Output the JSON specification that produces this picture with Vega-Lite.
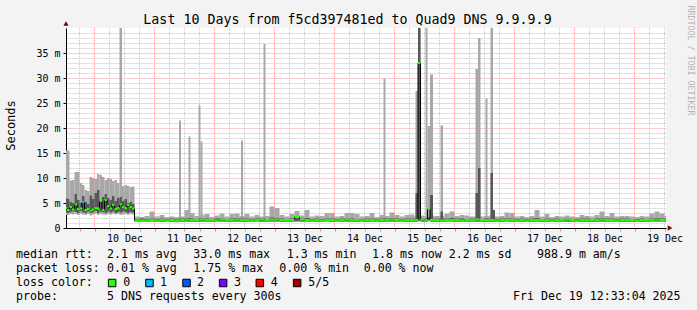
{
  "$schema": "https://vega.github.io/schema/vega-lite/v6.json",
  "background": "#F3F3F3",
  "autosize": {"type": "pad"},
  "padding": {"left": 4, "top": 5, "right": 4, "bottom": 7},
  "bounds": "flush",
  "spacing": 20,
  "title": {"text": "Last 10 Days from f5cd397481ed to Quad9 DNS 9.9.9.9", "font": "DejaVu Sans Mono", "fontSize": 13.3, "fontWeight": "normal", "color": "#000000", "anchor": "middle", "frame": "group", "dx": -18.5, "offset": 0, "baseline": "middle", "dy": 28},
  "config": {"view": {"stroke": null}, "font": "DejaVu Sans Mono"},
  "datasets": {
    "vgrid": [
      {"t":-6,"kind":"minor"},{"t":0,"kind":"major"},{"t":6,"kind":"minor"},{"t":12,"kind":"minor"},{"t":18,"kind":"minor"},
      {"t":24,"kind":"major"},{"t":30,"kind":"minor"},{"t":36,"kind":"minor"},{"t":42,"kind":"minor"},
      {"t":48,"kind":"major"},{"t":54,"kind":"minor"},{"t":60,"kind":"minor"},{"t":66,"kind":"minor"},
      {"t":72,"kind":"major"},{"t":78,"kind":"minor"},{"t":84,"kind":"minor"},{"t":90,"kind":"minor"},
      {"t":96,"kind":"major"},{"t":102,"kind":"minor"},{"t":108,"kind":"minor"},{"t":114,"kind":"minor"},
      {"t":120,"kind":"major"},{"t":126,"kind":"minor"},{"t":132,"kind":"minor"},{"t":138,"kind":"minor"},
      {"t":144,"kind":"major"},{"t":150,"kind":"minor"},{"t":156,"kind":"minor"},{"t":162,"kind":"minor"},
      {"t":168,"kind":"major"},{"t":174,"kind":"minor"},{"t":180,"kind":"minor"},{"t":186,"kind":"minor"},
      {"t":192,"kind":"major"},{"t":198,"kind":"minor"},{"t":204,"kind":"minor"},{"t":210,"kind":"minor"},
      {"t":216,"kind":"major"},{"t":222,"kind":"minor"},{"t":228,"kind":"minor"}
    ],
    "rows": [
      {"t":-12,"t2":-11,"lo":2.6,"dlo":3.1,"dhi":6.0,"hi":15.5,"med":4.0,"loss":"0"},
      {"t":-11,"t2":-10,"lo":2.6,"dlo":3.0,"dhi":5.8,"hi":15.5,"med":3.6,"loss":"0"},
      {"t":-10,"t2":-9,"lo":2.8,"dlo":3.2,"dhi":5.2,"hi":9.5,"med":4.2,"loss":"0"},
      {"t":-9,"t2":-8,"lo":2.7,"dlo":3.3,"dhi":5.0,"hi":9.6,"med":3.7,"loss":"0"},
      {"t":-8,"t2":-7,"lo":2.8,"dlo":3.2,"dhi":6.8,"hi":11.2,"med":4.7,"loss":"0"},
      {"t":-7,"t2":-6,"lo":2.6,"dlo":3.0,"dhi":5.6,"hi":11.2,"med":3.8,"loss":"0"},
      {"t":-6,"t2":-5,"lo":2.9,"dlo":3.4,"dhi":5.0,"hi":9.0,"med":3.9,"loss":"0"},
      {"t":-5,"t2":-4,"lo":2.7,"dlo":3.1,"dhi":6.4,"hi":8.6,"med":5.2,"loss":"1"},
      {"t":-4,"t2":-3,"lo":2.6,"dlo":3.0,"dhi":5.2,"hi":7.6,"med":3.6,"loss":"0"},
      {"t":-3,"t2":-2,"lo":2.8,"dlo":3.3,"dhi":4.8,"hi":7.4,"med":3.8,"loss":"0"},
      {"t":-2,"t2":-1,"lo":2.5,"dlo":3.0,"dhi":6.5,"hi":10.2,"med":3.5,"loss":"0"},
      {"t":-1,"t2":0,"lo":2.7,"dlo":3.1,"dhi":5.8,"hi":10.0,"med":3.7,"loss":"0"},
      {"t":0,"t2":1,"lo":2.9,"dlo":3.4,"dhi":7.0,"hi":9.8,"med":4.0,"loss":"0"},
      {"t":1,"t2":2,"lo":2.6,"dlo":3.0,"dhi":7.6,"hi":10.8,"med":3.9,"loss":"0"},
      {"t":2,"t2":3,"lo":2.8,"dlo":3.3,"dhi":5.6,"hi":10.6,"med":5.4,"loss":"0"},
      {"t":3,"t2":4,"lo":2.7,"dlo":3.2,"dhi":6.2,"hi":10.2,"med":3.6,"loss":"0"},
      {"t":4,"t2":5,"lo":2.6,"dlo":3.0,"dhi":6.8,"hi":9.6,"med":5.6,"loss":"0"},
      {"t":5,"t2":6,"lo":2.8,"dlo":3.3,"dhi":6.0,"hi":10.0,"med":4.4,"loss":"0"},
      {"t":6,"t2":7,"lo":2.7,"dlo":3.1,"dhi":5.6,"hi":9.8,"med":3.9,"loss":"0"},
      {"t":7,"t2":8,"lo":2.9,"dlo":3.3,"dhi":6.4,"hi":9.4,"med":4.6,"loss":"0"},
      {"t":8,"t2":9,"lo":2.7,"dlo":3.0,"dhi":5.4,"hi":9.6,"med":3.8,"loss":"0"},
      {"t":9,"t2":10,"lo":2.8,"dlo":3.2,"dhi":6.0,"hi":9.0,"med":4.0,"loss":"0"},
      {"t":10,"t2":11,"lo":2.6,"dlo":3.1,"dhi":6.2,"hi":40,"med":4.7,"loss":"0"},
      {"t":11,"t2":12,"lo":2.7,"dlo":3.3,"dhi":5.4,"hi":8.4,"med":4.2,"loss":"0"},
      {"t":12,"t2":13,"lo":2.8,"dlo":3.2,"dhi":5.8,"hi":8.6,"med":4.0,"loss":"0"},
      {"t":13,"t2":14,"lo":2.6,"dlo":3.0,"dhi":5.0,"hi":8.4,"med":4.6,"loss":"0"},
      {"t":14,"t2":15,"lo":2.8,"dlo":3.2,"dhi":5.2,"hi":8.2,"med":4.2,"loss":"0"},
      {"t":15,"t2":16,"lo":2.7,"dlo":3.1,"dhi":4.8,"hi":8.3,"med":3.9,"loss":"0"},
      {"t":16,"t2":18,"lo":1.2,"dlo":1.3,"dhi":1.8,"hi":2.3,"med":1.5,"loss":"0"},
      {"t":18,"t2":20,"lo":1.2,"dlo":1.3,"dhi":1.9,"hi":2.2,"med":1.5,"loss":"0"},
      {"t":20,"t2":22,"lo":1.2,"dlo":1.3,"dhi":1.8,"hi":2.4,"med":1.5,"loss":"0"},
      {"t":22,"t2":24,"lo":1.2,"dlo":1.35,"dhi":1.9,"hi":3.3,"med":1.6,"loss":"0"},
      {"t":24,"t2":26,"lo":1.2,"dlo":1.3,"dhi":1.8,"hi":2.3,"med":1.5,"loss":"0"},
      {"t":26,"t2":28,"lo":1.2,"dlo":1.3,"dhi":1.9,"hi":2.6,"med":1.6,"loss":"0"},
      {"t":28,"t2":30,"lo":1.2,"dlo":1.35,"dhi":1.8,"hi":2.2,"med":1.5,"loss":"0"},
      {"t":30,"t2":32,"lo":1.2,"dlo":1.3,"dhi":1.9,"hi":2.3,"med":1.6,"loss":"0"},
      {"t":32,"t2":34,"lo":1.1,"dlo":1.3,"dhi":1.8,"hi":2.2,"med":1.5,"loss":"0"},
      {"t":34,"t2":36,"lo":1.2,"dlo":1.3,"dhi":1.9,"hi":2.3,"med":1.6,"loss":"0"},
      {"t":36,"t2":38,"lo":1.2,"dlo":1.35,"dhi":2.0,"hi":3.6,"med":1.7,"loss":"0"},
      {"t":38,"t2":40,"lo":1.2,"dlo":1.3,"dhi":1.9,"hi":3.0,"med":1.6,"loss":"0"},
      {"t":40,"t2":42,"lo":1.2,"dlo":1.3,"dhi":1.8,"hi":2.4,"med":1.6,"loss":"0"},
      {"t":42,"t2":44,"lo":1.2,"dlo":1.35,"dhi":1.9,"hi":2.6,"med":1.7,"loss":"0"},
      {"t":44,"t2":46,"lo":1.2,"dlo":1.3,"dhi":1.9,"hi":2.8,"med":1.6,"loss":"0"},
      {"t":46,"t2":48,"lo":1.2,"dlo":1.3,"dhi":1.8,"hi":2.2,"med":1.6,"loss":"0"},
      {"t":48,"t2":50,"lo":1.2,"dlo":1.3,"dhi":1.9,"hi":2.5,"med":1.5,"loss":"0"},
      {"t":50,"t2":52,"lo":1.2,"dlo":1.35,"dhi":1.9,"hi":2.9,"med":1.7,"loss":"0"},
      {"t":52,"t2":54,"lo":1.2,"dlo":1.3,"dhi":1.8,"hi":2.3,"med":1.6,"loss":"0"},
      {"t":54,"t2":56,"lo":1.2,"dlo":1.3,"dhi":1.9,"hi":2.8,"med":1.6,"loss":"0"},
      {"t":56,"t2":58,"lo":1.2,"dlo":1.35,"dhi":2.0,"hi":2.9,"med":1.7,"loss":"0"},
      {"t":58,"t2":60,"lo":1.2,"dlo":1.3,"dhi":1.9,"hi":2.4,"med":1.6,"loss":"0"},
      {"t":60,"t2":62,"lo":1.2,"dlo":1.3,"dhi":1.9,"hi":2.8,"med":1.6,"loss":"0"},
      {"t":62,"t2":64,"lo":1.2,"dlo":1.3,"dhi":1.8,"hi":2.3,"med":1.5,"loss":"0"},
      {"t":64,"t2":66,"lo":1.2,"dlo":1.35,"dhi":1.9,"hi":2.6,"med":1.6,"loss":"0"},
      {"t":66,"t2":68,"lo":1.2,"dlo":1.3,"dhi":1.9,"hi":2.3,"med":1.7,"loss":"0"},
      {"t":68,"t2":70,"lo":1.2,"dlo":1.3,"dhi":1.8,"hi":2.4,"med":1.6,"loss":"0"},
      {"t":70,"t2":72,"lo":1.2,"dlo":1.35,"dhi":2.1,"hi":4.3,"med":1.7,"loss":"0"},
      {"t":72,"t2":74,"lo":1.2,"dlo":1.35,"dhi":2.0,"hi":4.0,"med":1.7,"loss":"0"},
      {"t":74,"t2":76,"lo":1.2,"dlo":1.3,"dhi":1.9,"hi":2.6,"med":1.6,"loss":"0"},
      {"t":76,"t2":78,"lo":1.2,"dlo":1.3,"dhi":1.8,"hi":2.3,"med":1.6,"loss":"0"},
      {"t":78,"t2":80,"lo":1.2,"dlo":1.3,"dhi":1.9,"hi":2.8,"med":1.6,"loss":"0"},
      {"t":80,"t2":82,"lo":1.2,"dlo":1.4,"dhi":2.3,"hi":3.4,"med":2.2,"loss":"0"},
      {"t":82,"t2":84,"lo":1.2,"dlo":1.3,"dhi":1.9,"hi":2.5,"med":1.7,"loss":"0"},
      {"t":84,"t2":86,"lo":1.2,"dlo":1.35,"dhi":2.0,"hi":3.6,"med":1.6,"loss":"0"},
      {"t":86,"t2":88,"lo":1.2,"dlo":1.3,"dhi":1.8,"hi":2.3,"med":1.5,"loss":"0"},
      {"t":88,"t2":90,"lo":1.2,"dlo":1.3,"dhi":1.9,"hi":2.5,"med":1.6,"loss":"0"},
      {"t":90,"t2":92,"lo":1.2,"dlo":1.3,"dhi":1.8,"hi":2.4,"med":1.5,"loss":"0"},
      {"t":92,"t2":94,"lo":1.2,"dlo":1.35,"dhi":1.9,"hi":3.0,"med":1.6,"loss":"0"},
      {"t":94,"t2":96,"lo":1.2,"dlo":1.3,"dhi":1.9,"hi":3.0,"med":1.6,"loss":"0"},
      {"t":96,"t2":98,"lo":1.2,"dlo":1.3,"dhi":1.8,"hi":2.3,"med":1.5,"loss":"0"},
      {"t":98,"t2":100,"lo":1.2,"dlo":1.3,"dhi":1.9,"hi":2.4,"med":1.6,"loss":"0"},
      {"t":100,"t2":102,"lo":1.2,"dlo":1.35,"dhi":1.9,"hi":3.0,"med":1.7,"loss":"0"},
      {"t":102,"t2":104,"lo":1.2,"dlo":1.3,"dhi":1.9,"hi":3.0,"med":1.6,"loss":"0"},
      {"t":104,"t2":106,"lo":1.2,"dlo":1.3,"dhi":1.8,"hi":2.8,"med":1.6,"loss":"0"},
      {"t":106,"t2":108,"lo":1.2,"dlo":1.3,"dhi":1.8,"hi":2.3,"med":1.5,"loss":"0"},
      {"t":108,"t2":110,"lo":1.2,"dlo":1.3,"dhi":1.9,"hi":2.4,"med":1.6,"loss":"0"},
      {"t":110,"t2":112,"lo":1.2,"dlo":1.35,"dhi":1.9,"hi":3.0,"med":1.6,"loss":"0"},
      {"t":112,"t2":114,"lo":1.2,"dlo":1.3,"dhi":1.8,"hi":2.2,"med":1.5,"loss":"0"},
      {"t":114,"t2":116,"lo":1.2,"dlo":1.3,"dhi":1.9,"hi":2.6,"med":1.6,"loss":"0"},
      {"t":116,"t2":118,"lo":1.2,"dlo":1.3,"dhi":1.9,"hi":2.4,"med":1.6,"loss":"0"},
      {"t":118,"t2":120,"lo":1.2,"dlo":1.35,"dhi":2.0,"hi":3.1,"med":1.7,"loss":"0"},
      {"t":120,"t2":122,"lo":1.2,"dlo":1.3,"dhi":1.9,"hi":2.6,"med":1.6,"loss":"0"},
      {"t":122,"t2":124,"lo":1.2,"dlo":1.3,"dhi":1.8,"hi":2.3,"med":1.5,"loss":"0"},
      {"t":124,"t2":126,"lo":1.2,"dlo":1.3,"dhi":1.9,"hi":2.6,"med":1.6,"loss":"0"},
      {"t":126,"t2":128,"lo":1.2,"dlo":1.3,"dhi":1.9,"hi":2.7,"med":1.6,"loss":"0"},
      {"t":128,"t2":129.4,"lo":1.2,"dlo":1.3,"dhi":1.9,"hi":2.4,"med":1.6,"loss":"0"},
      {"t":129.4,"t2":130.4,"lo":1.3,"dlo":1.5,"dhi":40,"hi":40,"med":33.0,"loss":"0"},
      {"t":130.4,"t2":132,"lo":1.2,"dlo":1.3,"dhi":1.9,"hi":2.5,"med":1.7,"loss":"0"},
      {"t":132,"t2":133.2,"lo":1.2,"dlo":1.3,"dhi":1.9,"hi":2.4,"med":1.6,"loss":"0"},
      {"t":133.2,"t2":134.2,"lo":1.3,"dlo":1.6,"dhi":2.2,"hi":20.4,"med":3.8,"loss":"0"},
      {"t":134.2,"t2":136,"lo":1.2,"dlo":1.3,"dhi":1.9,"hi":2.5,"med":1.6,"loss":"0"},
      {"t":136,"t2":138,"lo":1.2,"dlo":1.3,"dhi":1.9,"hi":2.4,"med":1.6,"loss":"0"},
      {"t":138,"t2":140,"lo":1.2,"dlo":1.3,"dhi":1.9,"hi":2.5,"med":1.5,"loss":"0"},
      {"t":140,"t2":142,"lo":1.2,"dlo":1.35,"dhi":1.9,"hi":2.9,"med":1.6,"loss":"0"},
      {"t":142,"t2":144,"lo":1.2,"dlo":1.35,"dhi":2.0,"hi":3.3,"med":1.6,"loss":"0"},
      {"t":144,"t2":146,"lo":1.2,"dlo":1.3,"dhi":1.9,"hi":2.4,"med":1.6,"loss":"0"},
      {"t":146,"t2":148,"lo":1.2,"dlo":1.3,"dhi":1.9,"hi":2.6,"med":1.5,"loss":"0"},
      {"t":148,"t2":150,"lo":1.2,"dlo":1.3,"dhi":1.8,"hi":2.5,"med":1.6,"loss":"0"},
      {"t":150,"t2":152,"lo":1.2,"dlo":1.3,"dhi":1.9,"hi":2.3,"med":1.6,"loss":"0"},
      {"t":152,"t2":154,"lo":1.2,"dlo":1.3,"dhi":1.9,"hi":2.4,"med":1.7,"loss":"0"},
      {"t":154,"t2":156,"lo":1.2,"dlo":1.3,"dhi":1.8,"hi":2.3,"med":1.6,"loss":"0"},
      {"t":156,"t2":158,"lo":1.2,"dlo":1.3,"dhi":1.9,"hi":2.4,"med":1.6,"loss":"0"},
      {"t":158,"t2":160,"lo":1.2,"dlo":1.3,"dhi":1.9,"hi":2.6,"med":1.6,"loss":"0"},
      {"t":160,"t2":162,"lo":1.2,"dlo":1.3,"dhi":1.8,"hi":2.3,"med":1.5,"loss":"0"},
      {"t":162,"t2":164,"lo":1.2,"dlo":1.3,"dhi":1.9,"hi":2.4,"med":1.6,"loss":"0"},
      {"t":164,"t2":166,"lo":1.2,"dlo":1.35,"dhi":1.9,"hi":3.1,"med":1.6,"loss":"0"},
      {"t":166,"t2":168,"lo":1.2,"dlo":1.3,"dhi":1.9,"hi":3.0,"med":1.6,"loss":"0"},
      {"t":168,"t2":170,"lo":1.2,"dlo":1.3,"dhi":1.8,"hi":2.3,"med":1.5,"loss":"0"},
      {"t":170,"t2":172,"lo":1.2,"dlo":1.3,"dhi":1.9,"hi":2.4,"med":1.6,"loss":"0"},
      {"t":172,"t2":174,"lo":1.2,"dlo":1.3,"dhi":1.8,"hi":2.2,"med":1.5,"loss":"0"},
      {"t":174,"t2":176,"lo":1.2,"dlo":1.3,"dhi":1.9,"hi":2.4,"med":1.6,"loss":"0"},
      {"t":176,"t2":178,"lo":1.2,"dlo":1.35,"dhi":2.0,"hi":3.6,"med":1.6,"loss":"0"},
      {"t":178,"t2":180,"lo":1.2,"dlo":1.3,"dhi":1.8,"hi":2.3,"med":1.6,"loss":"0"},
      {"t":180,"t2":182,"lo":1.2,"dlo":1.3,"dhi":1.9,"hi":2.8,"med":1.6,"loss":"0"},
      {"t":182,"t2":184,"lo":1.2,"dlo":1.3,"dhi":1.8,"hi":2.2,"med":1.5,"loss":"0"},
      {"t":184,"t2":186,"lo":1.2,"dlo":1.3,"dhi":1.9,"hi":2.4,"med":1.6,"loss":"0"},
      {"t":186,"t2":188,"lo":1.2,"dlo":1.3,"dhi":1.8,"hi":2.3,"med":1.6,"loss":"0"},
      {"t":188,"t2":190,"lo":1.2,"dlo":1.3,"dhi":1.9,"hi":2.5,"med":1.7,"loss":"0"},
      {"t":190,"t2":192,"lo":1.2,"dlo":1.3,"dhi":1.8,"hi":2.3,"med":1.6,"loss":"0"},
      {"t":192,"t2":194,"lo":1.2,"dlo":1.3,"dhi":1.8,"hi":2.2,"med":1.5,"loss":"0"},
      {"t":194,"t2":196,"lo":1.2,"dlo":1.3,"dhi":1.9,"hi":2.6,"med":1.6,"loss":"0"},
      {"t":196,"t2":198,"lo":1.2,"dlo":1.3,"dhi":1.9,"hi":2.4,"med":1.6,"loss":"0"},
      {"t":198,"t2":200,"lo":1.2,"dlo":1.3,"dhi":1.8,"hi":2.3,"med":1.6,"loss":"0"},
      {"t":200,"t2":202,"lo":1.2,"dlo":1.3,"dhi":1.9,"hi":2.6,"med":1.6,"loss":"0"},
      {"t":202,"t2":204,"lo":1.2,"dlo":1.35,"dhi":2.0,"hi":3.3,"med":1.7,"loss":"0"},
      {"t":204,"t2":206,"lo":1.2,"dlo":1.3,"dhi":1.9,"hi":2.4,"med":1.6,"loss":"0"},
      {"t":206,"t2":208,"lo":1.2,"dlo":1.35,"dhi":1.9,"hi":3.0,"med":1.6,"loss":"0"},
      {"t":208,"t2":210,"lo":1.2,"dlo":1.3,"dhi":1.8,"hi":2.3,"med":1.5,"loss":"0"},
      {"t":210,"t2":212,"lo":1.2,"dlo":1.3,"dhi":1.9,"hi":2.4,"med":1.6,"loss":"0"},
      {"t":212,"t2":214,"lo":1.2,"dlo":1.3,"dhi":1.9,"hi":2.4,"med":1.6,"loss":"0"},
      {"t":214,"t2":216,"lo":1.2,"dlo":1.3,"dhi":1.8,"hi":2.3,"med":1.6,"loss":"0"},
      {"t":216,"t2":218,"lo":1.2,"dlo":1.3,"dhi":1.8,"hi":2.2,"med":1.5,"loss":"0"},
      {"t":218,"t2":220,"lo":1.2,"dlo":1.3,"dhi":1.9,"hi":2.4,"med":1.6,"loss":"0"},
      {"t":220,"t2":222,"lo":1.2,"dlo":1.3,"dhi":1.8,"hi":2.3,"med":1.6,"loss":"0"},
      {"t":222,"t2":224,"lo":1.2,"dlo":1.35,"dhi":1.9,"hi":2.9,"med":1.6,"loss":"0"},
      {"t":224,"t2":226,"lo":1.2,"dlo":1.35,"dhi":2.0,"hi":3.3,"med":1.7,"loss":"0"},
      {"t":226,"t2":228,"lo":1.2,"dlo":1.35,"dhi":1.9,"hi":2.9,"med":1.6,"loss":"0"},
      {"t":228,"t2":230,"lo":1.2,"dlo":1.3,"dhi":1.9,"hi":2.4,"med":1.6,"loss":"0"},
      {"t":33.8,"t2":34.6,"lo":1.3,"dlo":1.4,"dhi":1.9,"hi":21.5},
      {"t":37.6,"t2":38.4,"lo":1.3,"dlo":1.4,"dhi":2.0,"hi":18.3},
      {"t":41.6,"t2":42.4,"lo":1.3,"dlo":1.4,"dhi":1.9,"hi":24.5},
      {"t":42.4,"t2":43.2,"lo":1.3,"dlo":1.4,"dhi":1.9,"hi":17.3},
      {"t":58.6,"t2":59.4,"lo":1.3,"dlo":1.4,"dhi":1.9,"hi":17.5},
      {"t":67.6,"t2":68.4,"lo":1.3,"dlo":1.4,"dhi":1.9,"hi":36.8},
      {"t":115.6,"t2":116.4,"lo":1.3,"dlo":1.4,"dhi":1.9,"hi":29.9},
      {"t":128.4,"t2":129.4,"lo":1.3,"dlo":1.4,"dhi":7.0,"hi":27.4},
      {"t":132.4,"t2":133.2,"lo":1.3,"dlo":1.4,"dhi":2.0,"hi":40},
      {"t":134.2,"t2":135.4,"lo":1.3,"dlo":1.4,"dhi":6.6,"hi":30.7},
      {"t":138.4,"t2":139.4,"lo":1.3,"dlo":1.4,"dhi":3.3,"hi":20.5},
      {"t":152.4,"t2":153.4,"lo":1.3,"dlo":1.4,"dhi":7.0,"hi":31.8},
      {"t":153.4,"t2":154.4,"lo":1.3,"dlo":1.4,"dhi":12.0,"hi":38.0},
      {"t":156.4,"t2":157.2,"lo":1.3,"dlo":1.4,"dhi":2.0,"hi":25.9},
      {"t":158.4,"t2":159.4,"lo":1.3,"dlo":1.4,"dhi":11.0,"hi":40},
      {"t":159.4,"t2":160.2,"lo":1.3,"dlo":1.4,"dhi":3.6,"hi":3.6}
    ],
    "arrows": [
      {"t":230.2,"v":0,"shape":"triangle-right"},
      {"t":-11.4,"v":40.9,"shape":"triangle-up"}
    ],
    "legend": [
      {"line":1,"col":0,"txt":"median rtt:"},
      {"line":1,"col":13,"txt":"2.1 ms avg"},
      {"line":1,"col":25.33,"txt":"33.0 ms max"},
      {"line":1,"col":38.67,"txt":"1.3 ms min"},
      {"line":1,"col":50.86,"txt":"1.8 ms now"},
      {"line":1,"col":61.81,"txt":"2.2 ms sd"},
      {"line":1,"col":74.43,"txt":"988.9 m am/s"},
      {"line":2,"col":0,"txt":"packet loss:"},
      {"line":2,"col":13,"txt":"0.01 % avg"},
      {"line":2,"col":25.33,"txt":"1.75 % max"},
      {"line":2,"col":37.61,"txt":"0.00 % min"},
      {"line":2,"col":49.67,"txt":"0.00 % now"},
      {"line":3,"col":0,"txt":"loss color:"},
      {"line":3,"col":15.33,"txt":"0"},
      {"line":3,"col":20.57,"txt":"1"},
      {"line":3,"col":25.86,"txt":"2"},
      {"line":3,"col":31.14,"txt":"3"},
      {"line":3,"col":36.39,"txt":"4"},
      {"line":3,"col":41.76,"txt":"5/5"},
      {"line":4,"col":0,"txt":"probe:"},
      {"line":4,"col":13,"txt":"5 DNS requests every 300s"},
      {"line":4,"col":71,"txt":"Fri Dec 19 12:33:04 2025"}
    ],
    "swatches": [
      {"line":3,"col":13.73,"loss":"0"},
      {"line":3,"col":19.07,"loss":"1"},
      {"line":3,"col":24.36,"loss":"2"},
      {"line":3,"col":29.59,"loss":"3"},
      {"line":3,"col":34.83,"loss":"4"},
      {"line":3,"col":40.16,"loss":"5/5"}
    ]
  },
  "vconcat": [
    {
      "width": 600,
      "height": 200,
      "view": {"fill": "#FFFFFF", "stroke": null},
      "data": {"name": "rows"},
      "resolve": {"axis": {"y": "independent"}},
      "encoding": {
        "x": {"field": "t", "type": "quantitative",
          "scale": {"domain": [-11.4, 228.6], "nice": false, "zero": false},
          "axis": {
            "title": null,
            "values": [-6,0,6,12,18,24,30,36,42,48,54,60,66,72,78,84,90,96,102,108,114,120,126,132,138,144,150,156,162,168,174,180,186,192,198,204,210,216,222,228],
            "labelExpr": "datum.value % 24 == 12 ? (10 + floor(datum.value / 24)) + ' Dec' : ''",
            "labelFont": "DejaVu Sans Mono", "labelFontSize": 10, "labelColor": "#000000", "labelPadding": 2, "labelAngle": 0,
            "labelOverlap": false, "labelBound": false, "labelFlush": false,
            "tickSize": 3,
            "tickColor": {"condition": {"test": "datum.value % 24 == 0", "value": "#F08080"}, "value": "#B0B0B0"},
            "grid": false,
            "domainColor": "#000000"
          }
        }
      },
      "layer": [
        {
          "data": {"name": "vgrid"},
          "mark": {"type": "rule", "strokeWidth": 1, "strokeDash": [1, 1]},
          "encoding": {
            "stroke": {"field": "kind", "type": "nominal", "legend": null,
              "scale": {"domain": ["major", "minor"], "range": ["#F29A9A", "#C4C4C4"]}}
          }
        },
        {
          "mark": {"type": "rect", "color": "#A8A8A8", "clip": true},
          "encoding": {
            "x2": {"field": "t2"},
            "y": {"field": "lo", "type": "quantitative",
              "scale": {"domain": [0, 40], "nice": false, "zero": true},
              "axis": {
                "title": "Seconds",
                "values": [0,1,2,3,4,5,6,7,8,9,10,11,12,13,14,15,16,17,18,19,20,21,22,23,24,25,26,27,28,29,30,31,32,33,34,35,36,37,38,39],
                "labelExpr": "datum.value % 5 == 0 ? (datum.value == 0 ? '0' : datum.value + ' m') : ''",
                "labelFont": "DejaVu Sans Mono", "labelFontSize": 10, "labelColor": "#000000", "labelPadding": 3,
                "labelOverlap": false, "labelBound": false, "labelFlush": false,
                "tickSize": 3,
                "tickColor": {"condition": {"test": "datum.value % 5 == 0", "value": "#000000"}, "value": "rgba(0,0,0,0)"},
                "grid": true,
                "gridColor": {"condition": [{"test": "datum.value == 0", "value": "rgba(0,0,0,0)"}, {"test": "datum.value % 5 == 0", "value": "#F29A9A"}], "value": "#C4C4C4"},
                "gridDash": [1, 1],
                "gridOpacity": 1,
                "domainColor": "#000000",
                "titleFont": "DejaVu Sans Mono", "titleFontSize": 12, "titleFontWeight": "normal", "titleColor": "#000000",
                "titleAngle": -90, "titleX": -56, "titleY": 97, "titleAlign": "center", "titleBaseline": "middle"
              }
            },
            "y2": {"field": "hi"}
          }
        },
        {
          "mark": {"type": "rect", "color": "#585858", "clip": true},
          "encoding": {
            "x2": {"field": "t2"},
            "y": {"field": "dlo", "type": "quantitative", "axis": null},
            "y2": {"field": "dhi"}
          }
        },
        {
          "transform": [{"filter": "isValid(datum.med)"}],
          "mark": {"type": "line", "color": "#000000", "strokeWidth": 1, "interpolate": "step-after", "clip": true},
          "encoding": {
            "y": {"field": "med", "type": "quantitative", "axis": null}
          }
        },
        {
          "transform": [{"filter": "isValid(datum.med)"}],
          "mark": {"type": "rule", "strokeWidth": 2, "clip": true},
          "encoding": {
            "x2": {"field": "t2"},
            "y": {"field": "med", "type": "quantitative", "axis": null},
            "color": {"field": "loss", "type": "nominal", "legend": null,
              "scale": {"domain": ["0","1","2","3","4","5/5"], "range": ["#26FF00","#00B8FF","#0059FF","#7E00FF","#FF0000","#A10000"]}}
          }
        },
        {
          "data": {"name": "arrows"},
          "mark": {"type": "point", "filled": true, "color": "#7F0000", "opacity": 1, "size": 28},
          "encoding": {
            "y": {"field": "v", "type": "quantitative",
              "axis": {"orient": "right", "title": "RRDTOOL / TOBI OETIKER", "domain": false, "ticks": false, "labels": false, "grid": false,
                "titleAngle": 90, "titleX": 23, "titleY": 32, "titleAlign": "center", "titleBaseline": "middle",
                "titleFont": "DejaVu Sans Mono", "titleFontSize": 8.3, "titleFontWeight": "normal", "titleColor": "#B4B4B4"}},
            "shape": {"field": "shape", "type": "nominal", "scale": null}
          }
        }
      ]
    },
    {
      "width": 600,
      "height": 56,
      "layer": [
        {
          "data": {"name": "legend"},
          "mark": {"type": "text", "align": "left", "baseline": "middle", "font": "DejaVu Sans Mono", "fontSize": 11.6, "color": "#000000"},
          "encoding": {
            "x": {"field": "col", "type": "quantitative", "axis": null, "scale": {"domain": [7.142857, 92.857143], "nice": false, "zero": false}},
            "y": {"field": "line", "type": "ordinal", "axis": null, "scale": {"domain": [1,2,3,4]}},
            "text": {"field": "txt"}
          }
        },
        {
          "data": {"name": "swatches"},
          "mark": {"type": "point", "shape": "square", "filled": true, "size": 56, "stroke": "#000000", "strokeWidth": 1, "opacity": 1},
          "encoding": {
            "x": {"field": "col", "type": "quantitative", "axis": null, "scale": {"domain": [7.142857, 92.857143], "nice": false, "zero": false}},
            "y": {"field": "line", "type": "ordinal", "axis": null, "scale": {"domain": [1,2,3,4]}},
            "color": {"field": "loss", "type": "nominal", "legend": null,
              "scale": {"domain": ["0","1","2","3","4","5/5"], "range": ["#26FF00","#00B8FF","#0059FF","#7E00FF","#FF0000","#A10000"]}}
          }
        }
      ]
    }
  ]
}
